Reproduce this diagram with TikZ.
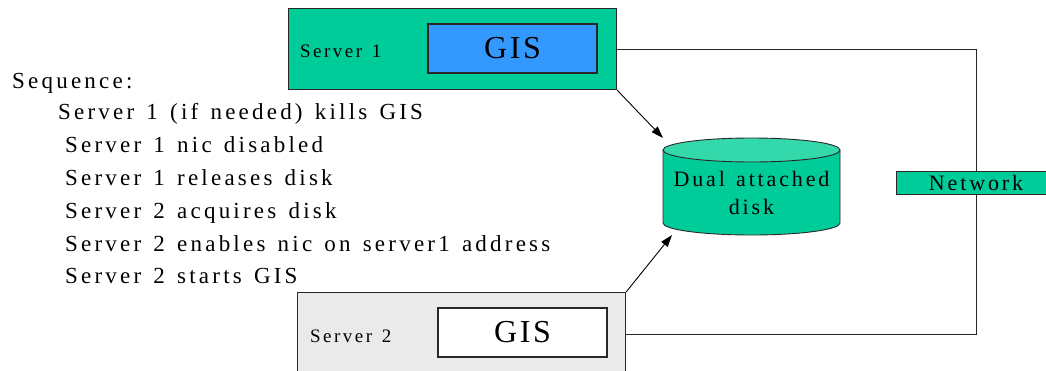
\documentclass[tikz,border=0pt]{standalone}
\usepackage{fontspec}
\setmainfont{Liberation Serif}
\makeatletter
\def\trk@stop{}
\def\trk@letters#1{\ifx#1\trk@stop\else#1\kern\trkamt\expandafter\trk@letters\fi}
\def\trk@split#1 #2\trk@end{\trk@letters#1\trk@stop\ifx\relax#2\relax\else\hskip\dimexpr0.25em+\trkamt\relax\trk@split#2\trk@end\fi}
\newcommand\trk[2][0.13em]{\def\trkamt{#1}\trk@split#2 \trk@end\kern-\trkamt}
\newcommand\seqtrk[1]{\trk[0.14em]{#1}}
\makeatother
\usetikzlibrary{arrows.meta,calc}
\definecolor{srvgreen}{RGB}{0,204,153}
\definecolor{diskTop}{RGB}{51,217,170}
\definecolor{gisblue}{RGB}{51,153,255}
\definecolor{srvgray}{RGB}{234,234,234}
\definecolor{edge}{RGB}{40,40,40}
\begin{document}
\begin{tikzpicture}[x=1pt,y=-1pt,
  box/.style={draw=edge,line width=1.1pt,inner sep=0pt,anchor=north west},
  seqtext/.style={anchor=base west,inner sep=0pt,font=\fontsize{23}{23}\selectfont},
  lbl/.style={anchor=base west,inner sep=0pt,font=\fontsize{19}{19}\selectfont},
  gis/.style={draw=edge,line width=1.1pt,inner sep=0pt,font=\fontsize{32}{32}\selectfont},
  wire/.style={draw=edge,line width=0.9pt},
  arrow/.style={draw=black,line width=0.9pt,-{Triangle[length=12pt,width=8pt]}}]
\useasboundingbox (0,0) rectangle (1046,370);
\clip (0,0) rectangle (1046,370);
% servers
\node[box,fill=srvgreen,minimum width=328,minimum height=81] (s1) at (288,8) {};
\node[gis,fill=gisblue,minimum width=169,minimum height=49] (g1) at (512.5,48.5) {\trk[0.08em]{GIS}};
\node[lbl] (s1l) at (300,57) {\trk{Server 1}};
\node[box,fill=srvgray,minimum width=328,minimum height=83] (s2) at (297,292) {};
\node[gis,fill=white,minimum width=169,minimum height=49] (g2) at (522.5,332.5) {\trk[0.08em]{GIS}};
\node[lbl] (s2l) at (310,342) {\trk{Server 2}};
% sequence text
\node[seqtext] (l1) at (12,88) {\seqtrk{Sequence:}};
\node[seqtext] (l2) at (58,119) {\seqtrk{Server 1 (if needed) kills GIS}};
\node[seqtext] (l3) at (65,152) {\seqtrk{Server 1 nic disabled}};
\node[seqtext] (l4) at (65,185) {\seqtrk{Server 1 releases disk}};
\node[seqtext] (l5) at (65,218) {\seqtrk{Server 2 acquires disk}};
\node[seqtext] (l6) at (65,251) {\seqtrk{Server 2 enables nic on server1 address}};
\node[seqtext] (l7) at (65,283) {\seqtrk{Server 2 starts GIS}};
% disk
\fill[srvgreen,draw=edge,line width=0.9pt] (663,150) -- (663,223) arc[start angle=180,end angle=0,x radius=88.5,y radius=12] -- (840,150);
\filldraw[fill=diskTop,draw=edge,line width=0.9pt] (751.5,150) ellipse[x radius=88.5,y radius=12];
\node[align=center,inner sep=0pt,font=\fontsize{22}{28}\selectfont] (disk) at (751.5,193) {\trk{Dual attached}\\\trk{disk}};
\coordinate (dtl) at (663,138);
\coordinate (dbl) at (672,235);
% network
\node[box,fill=srvgreen,minimum width=160,minimum height=23] (net) at (896,171) {};
\node[inner sep=0pt,font=\fontsize{22}{22}\selectfont] (netl) at (976,183) {\trk{Network}};
\draw[wire] (s1.east) -| (net.north);
\draw[wire] (net.south) |- (s2.east);
% arrows
\draw[arrow] (s1.south east) -- (dtl);
\draw[arrow] (s2.north east) -- (dbl);
\end{tikzpicture}
\end{document}
